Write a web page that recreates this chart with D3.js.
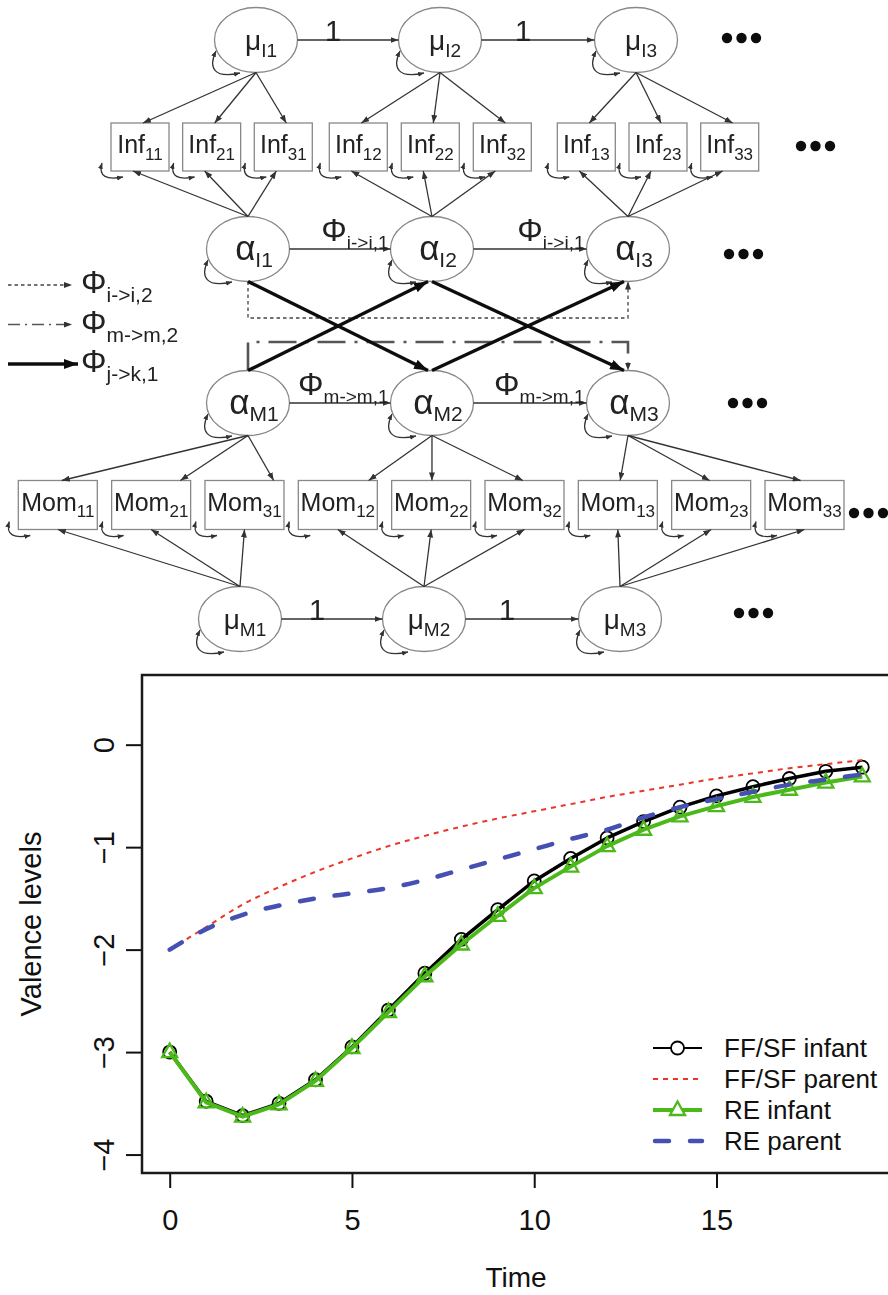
<!DOCTYPE html>
<html>
<head>
<meta charset="utf-8">
<script src="https://cdn.jsdelivr.net/npm/d3@7"></script>
<style>
  html, body { margin: 0; padding: 0; background: #fff; }
  svg { display: block; font-family: "Liberation Sans", Arial, Helvetica, sans-serif; }
</style>
</head>
<body>
<svg id="fig" width="888" height="1295"></svg>
<script>
// ---------------- trajectory values (model-implied valence levels) ----------------
const times = d3.range(0, 20);
const ffsfInfant = [-3.00, -3.48, -3.62, -3.50, -3.27, -2.95, -2.59, -2.23, -1.90, -1.61,
                    -1.33, -1.11, -0.91, -0.75, -0.61, -0.50, -0.41, -0.33, -0.26, -0.22];
const ffsfParent = [-2.00, -1.78, -1.56, -1.39, -1.24, -1.11, -0.99, -0.89, -0.80, -0.72,
                    -0.65, -0.58, -0.51, -0.45, -0.39, -0.33, -0.28, -0.23, -0.19, -0.15];
const reInfant   = [-3.00, -3.49, -3.63, -3.51, -3.28, -2.96, -2.61, -2.26, -1.95, -1.67,
                    -1.40, -1.19, -0.99, -0.83, -0.70, -0.60, -0.51, -0.44, -0.37, -0.31];
const reParent   = [-2.00, -1.80, -1.66, -1.57, -1.50, -1.45, -1.40, -1.32, -1.22, -1.12,
                    -1.02, -0.92, -0.83, -0.71, -0.61, -0.53, -0.46, -0.39, -0.34, -0.29];
const xTickValues = [0, 5, 10, 15];
const yTickValues = [-4, -3, -2, -1, 0];
const seriesNames = ["FF/SF infant", "FF/SF parent", "RE infant", "RE parent"];
const xTitle = "Time";
const yTitle = "Valence levels";

// ---------------- path diagram content ----------------
const waves = [1, 2, 3];
const items = [1, 2, 3];
const latentRows = [
  { key: "muI",    sym: "\u03BC", who: "I", arLabel: "1" },
  { key: "alphaI", sym: "\u03B1", who: "I", arLabel: "i->i,1" },
  { key: "alphaM", sym: "\u03B1", who: "M", arLabel: "m->m,1" },
  { key: "muM",    sym: "\u03BC", who: "M", arLabel: "1" }
];
const indicatorRows = [
  { key: "inf", name: "Inf" },
  { key: "mom", name: "Mom" }
];
const pathKeyItems = [
  { sub: "i->i,2", style: "dotted" },
  { sub: "m->m,2", style: "dashdot" },
  { sub: "j->k,1", style: "thick" }
];
const PHI = "\u03A6";

// ================= drawing =================
const svg = d3.select("#fig");
svg.append("rect").attr("width", 888).attr("height", 1295).attr("fill", "#fff");
const defs = svg.append("defs");

function marker(id, len, wid, color) {
  defs.append("marker")
    .attr("id", id)
    .attr("viewBox", `0 0 ${len} ${wid}`)
    .attr("refX", len).attr("refY", wid / 2)
    .attr("markerWidth", len).attr("markerHeight", wid)
    .attr("markerUnits", "userSpaceOnUse")
    .attr("orient", "auto-start-reverse")
    .append("path")
    .attr("d", `M0,0L${len},${wid / 2}L0,${wid}Z`)
    .attr("fill", color);
}
marker("ah", 8, 6, "#333");
marker("ahBig", 14, 10, "#111");
marker("ahLoop", 6, 5, "#333");

defs.append("filter").attr("id", "soft")
  .append("feGaussianBlur").attr("stdDeviation", 0.4);

const dg = svg.append("g").attr("filter", "url(#soft)");

// ---- layout of the diagram
const colX = d3.scaleLinear().domain([1, 2, 3]).range([248, 432, 628]);
const rowY  = { muI: 40, alphaI: 249, alphaM: 403, muM: 619 };
const rowDx = { muI: 8, alphaI: 0, alphaM: 0, muM: -8 };
const RX = 41.5, RY = 32.5;
const indLayout = {
  inf: { x: d3.scaleLinear().domain([0, 2, 3, 5, 6, 8]).range([140, 283.3, 358.3, 502.3, 586.3, 729.7]),
         cy: 147, w: 58, h: 48, fs: 25, sfs: 17, base: 6, subDy: 7 },
  mom: { x: d3.scaleLinear().domain([0, 8]).range([57.8, 804.5]),
         cy: 505, w: 79, h: 49, fs: 25, sfs: 17, base: 6, subDy: 6 }
};
const momTopAnchor = [[0.55, 0.87, 0.87], [0.89, 0.51, 0.48], [0.53, 0.48, 0.45]];
const moreAt = { muI: [722, 38], inf: [796, 146], alphaI: [724, 254], alphaM: [728, 403], mom: [849, 513], muM: [734, 613] };
const lag2Y = { dotted: 318, dashdot: 342 };

const latent = (row, t) => ({ cx: colX(t) + rowDx[row], cy: rowY[row] });
function box(kind, j, t) {
  const L = indLayout[kind];
  const cx = L.x((t - 1) * 3 + (j - 1));
  return { cx, cy: L.cy, x: cx - L.w / 2, y: L.cy - L.h / 2, w: L.w, h: L.h };
}

function subText(g, x, y, main, sub, o) {
  const t = g.append("text").attr("x", x).attr("y", y)
    .attr("text-anchor", o.anchor || "middle").attr("fill", o.fill || "#222");
  t.append("tspan").attr("font-size", o.fs).text(main);
  t.append("tspan").attr("font-size", o.sfs).attr("dy", o.dy).text(sub);
  return t;
}
function arrow(g, x1, y1, x2, y2, opts = {}) {
  return g.append("line").attr("x1", x1).attr("y1", y1).attr("x2", x2).attr("y2", y2)
    .attr("stroke", opts.stroke || "#333").attr("stroke-width", opts.width || 1.3)
    .attr("stroke-dasharray", opts.dash || null)
    .attr("marker-end", opts.head === false ? null : `url(#${opts.marker || "ah"})`);
}
function loop(g, d) {
  g.append("path").attr("d", d).attr("fill", "none").attr("stroke", "#333").attr("stroke-width", 1.3)
    .attr("marker-start", "url(#ahLoop)").attr("marker-end", "url(#ahLoop)");
}

// ---- indicator boxes
indicatorRows.forEach(r => {
  const L = indLayout[r.key];
  waves.forEach(t => items.forEach(j => {
    const b = box(r.key, j, t);
    dg.append("rect").attr("x", b.x).attr("y", b.y).attr("width", b.w).attr("height", b.h)
      .attr("fill", "#fff").attr("stroke", "#888").attr("stroke-width", 1.3);
    subText(dg, b.cx, b.cy + L.base, r.name, `${j}${t}`, { fs: L.fs, sfs: L.sfs, dy: L.subDy });
    const L0 = b.x, B0 = b.y + b.h;
    loop(dg, `M${L0 - 9},${B0 - 8} C${L0 - 13},${B0 + 6} ${L0 - 4},${B0 + 9} ${L0 + 12},${B0 + 6}`);
  }));
});

// ---- latent ellipses
latentRows.forEach(r => {
  waves.forEach(t => {
    const p = latent(r.key, t);
    dg.append("ellipse").attr("cx", p.cx).attr("cy", p.cy).attr("rx", RX).attr("ry", RY)
      .attr("fill", "#fff").attr("stroke", "#888").attr("stroke-width", 1.3);
    const isMu = r.sym === "\u03BC";
    subText(dg, p.cx + (isMu ? 5 : 6), p.cy + (isMu ? 10 : 11), r.sym, `${r.who}${t}`,
      { fs: isMu ? 28 : 35, sfs: isMu ? 19 : 21, dy: 7 });
    loop(dg, `M${p.cx - 40},${p.cy + 11} C${p.cx - 48},${p.cy + 28} ${p.cx - 42},${p.cy + 39} ${p.cx - 16},${p.cy + 33}`);
  });
});

// ---- loadings
waves.forEach(t => items.forEach(j => {
  const mi = latent("muI", t), ai = latent("alphaI", t), am = latent("alphaM", t), mm = latent("muM", t);
  const bi = box("inf", j, t), bm = box("mom", j, t);
  arrow(dg, mi.cx, mi.cy + RY, bi.cx + 3, bi.y);
  arrow(dg, ai.cx, ai.cy - RY, bi.cx - 7, bi.y + bi.h);
  arrow(dg, am.cx, am.cy + RY, bm.x + bm.w * momTopAnchor[t - 1][j - 1], bm.y);
  arrow(dg, mm.cx, mm.cy - RY, bm.cx, bm.y + bm.h);
}));

// ---- autoregressive paths between waves
latentRows.forEach(r => {
  [1, 2].forEach(t => {
    const a = latent(r.key, t), b = latent(r.key, t + 1);
    const x1 = a.cx + RX, x2 = b.cx - RX, yy = a.cy;
    arrow(dg, x1, yy, x2, yy);
    if (r.arLabel === "1") {
      dg.append("text").attr("x", (x1 + x2) / 2 - 15).attr("y", yy + 1)
        .attr("text-anchor", "middle").attr("font-size", 29).attr("fill", "#222").text("1");
    } else {
      subText(dg, x2 - 2, yy - 8, PHI, r.arLabel, { anchor: "end", fs: 32, sfs: 19, dy: 8 });
    }
  });
});

// ---- lag-2 paths (elbows)
{
  const a1 = latent("alphaI", 1), a3 = latent("alphaI", 3);
  dg.append("path")
    .attr("d", `M${a1.cx},${a1.cy + RY} V${lag2Y.dotted} H${a3.cx} V${a3.cy + RY}`)
    .attr("fill", "none").attr("stroke", "#444").attr("stroke-width", 1.3)
    .attr("stroke-dasharray", "3.5,3").attr("marker-end", "url(#ah)");
  const m1 = latent("alphaM", 1), m3 = latent("alphaM", 3);
  dg.append("path")
    .attr("d", `M${m1.cx},${m1.cy - RY} V${lag2Y.dashdot} H${m3.cx} V${m3.cy - RY}`)
    .attr("fill", "none").attr("stroke", "#555").attr("stroke-width", 2.6)
    .attr("stroke-dasharray", "28,9,3,9").attr("marker-end", "url(#ah)");
}

// ---- cross-lagged paths
[1, 2].forEach(t => {
  const ai = latent("alphaI", t), am = latent("alphaM", t);
  const ai2 = latent("alphaI", t + 1), am2 = latent("alphaM", t + 1);
  arrow(dg, ai.cx, ai.cy + RY, am2.cx - 4, am2.cy - RY, { stroke: "#111", width: 3.4, marker: "ahBig" });
  arrow(dg, am.cx, am.cy - RY, ai2.cx - 4, ai2.cy + RY, { stroke: "#111", width: 3.4, marker: "ahBig" });
});

// ---- continuation dots
Object.values(moreAt).forEach(([x0, y0]) => {
  [0, 1, 2].forEach(k => dg.append("circle").attr("cx", x0 + 5 + k * 14.5).attr("cy", y0).attr("r", 5.2).attr("fill", "#111"));
});

// ---- key for the lagged paths
const keyY = d3.scalePoint().domain(pathKeyItems.map(d => d.sub)).range([285, 364]);
pathKeyItems.forEach(d => {
  const yy = keyY(d.sub);
  if (d.style === "dotted") arrow(dg, 8, yy, 72, yy, { dash: "3.5,3", stroke: "#444" });
  if (d.style === "dashdot") arrow(dg, 8, yy, 72, yy, { dash: "12,5,2,5", stroke: "#555", width: 1.6 });
  if (d.style === "thick") arrow(dg, 8, yy, 78, yy, { stroke: "#111", width: 3.4, marker: "ahBig" });
  subText(dg, 81, yy + 8, PHI, d.sub, { anchor: "start", fs: 32, sfs: 21, dy: 9 });
});

// ================= line chart =================
const cg = svg.append("g");
const x = d3.scaleLinear().domain([-0.76, 19.76]).range([142, 890]);
const y = d3.scaleLinear().domain([-4.18, 0.68]).range([1173, 675]);
const fmt = d3.format("d");

const xAxis = cg.append("g").attr("transform", "translate(0,1173)")
  .call(d3.axisBottom(x).tickValues(xTickValues).tickSize(15).tickFormat(fmt));
xAxis.select(".domain").remove();
xAxis.attr("font-family", null).attr("font-size", 29);
xAxis.selectAll(".tick line").attr("stroke", "#111").attr("stroke-width", 2);
xAxis.selectAll(".tick text").attr("y", 57).attr("dy", null).attr("fill", "#111");

const yAxis = cg.append("g").attr("transform", "translate(142,0)")
  .call(d3.axisLeft(y).tickValues(yTickValues).tickSize(16).tickFormat(fmt));
yAxis.select(".domain").remove();
yAxis.attr("font-family", null).attr("font-size", 29);
yAxis.selectAll(".tick line").attr("stroke", "#111").attr("stroke-width", 2);
yAxis.selectAll(".tick text").attr("transform", "rotate(-90)").attr("x", 0).attr("y", -28)
  .attr("dy", null).attr("text-anchor", "middle").attr("fill", "#111");

cg.append("text").attr("x", (x.range()[0] + x.range()[1]) / 2).attr("y", 1287)
  .attr("text-anchor", "middle").attr("font-size", 28).attr("fill", "#111").text(xTitle);
cg.append("text").attr("transform", `translate(0,${(y.range()[0] + y.range()[1]) / 2}) rotate(-90)`)
  .attr("x", 0).attr("y", 41).attr("text-anchor", "middle").attr("font-size", 29).attr("fill", "#111").text(yTitle);

const colors = { black: "#000", red: "#e8372a", green: "#4cb91a", blue: "#4650b2" };
const lineGen = d3.line().x((d, i) => x(times[i])).y(d => y(d));
const tri = "M0,-8.5L7.5,5L-7.5,5Z";

const plot = cg.append("g");
plot.append("path").datum(ffsfInfant).attr("d", lineGen).attr("fill", "none")
  .attr("stroke", colors.black).attr("stroke-width", 3.5).attr("stroke-linejoin", "round");
plot.selectAll("circle.ff").data(ffsfInfant).join("circle").attr("class", "ff")
  .attr("cx", (d, i) => x(times[i])).attr("cy", d => y(d)).attr("r", 6.5)
  .attr("fill", "none").attr("stroke", colors.black).attr("stroke-width", 1.8);
plot.append("path").datum(ffsfParent).attr("d", lineGen.curve(d3.curveMonotoneX)).attr("fill", "none")
  .attr("stroke", colors.red).attr("stroke-width", 2).attr("stroke-dasharray", "5,5");
lineGen.curve(d3.curveLinear);
plot.append("path").datum(reInfant).attr("d", lineGen).attr("fill", "none")
  .attr("stroke", colors.green).attr("stroke-width", 4).attr("stroke-linejoin", "round");
plot.selectAll("path.tri").data(reInfant).join("path").attr("class", "tri")
  .attr("d", tri).attr("transform", (d, i) => `translate(${x(times[i])},${y(d)})`)
  .attr("fill", "none").attr("stroke", colors.green).attr("stroke-width", 2.3);
plot.append("path").datum(reParent).attr("d", lineGen.curve(d3.curveMonotoneX)).attr("fill", "none")
  .attr("stroke", colors.blue).attr("stroke-width", 4.5).attr("stroke-linecap", "round")
  .attr("stroke-dasharray", "14,21");

// plot frame
cg.append("rect").attr("x", 142).attr("y", 675).attr("width", 748).attr("height", 498)
  .attr("fill", "none").attr("stroke", "#1a1a1a").attr("stroke-width", 2.5);

// legend
const legY = d3.scalePoint().domain(seriesNames).range([1048, 1141]);
const lg = cg.append("g");
const lx1 = 653, lx2 = 702, lmid = (lx1 + lx2) / 2;
const legendStyles = [
  { c: colors.black, w: 2, dash: null, mark: "circle" },
  { c: colors.red, w: 2, dash: "5,5", mark: null },
  { c: colors.green, w: 4, dash: null, mark: "tri" },
  { c: colors.blue, w: 4.5, dash: "14,21", mark: null, cap: "round" }
];
seriesNames.forEach((name, i) => {
  const yy = legY(name), s = legendStyles[i];
  lg.append("line").attr("x1", s.cap ? lx1 + 2 : lx1).attr("x2", lx2).attr("y1", yy).attr("y2", yy)
    .attr("stroke", s.c).attr("stroke-width", s.w).attr("stroke-dasharray", s.dash)
    .attr("stroke-linecap", s.cap || "butt");
  if (s.mark === "circle") lg.append("circle").attr("cx", lmid).attr("cy", yy).attr("r", 6.5)
    .attr("fill", "#fff").attr("stroke", s.c).attr("stroke-width", 1.8);
  if (s.mark === "tri") lg.append("path").attr("d", tri).attr("transform", `translate(${lmid},${yy})`)
    .attr("fill", "#fff").attr("stroke", s.c).attr("stroke-width", 2.3);
  lg.append("text").attr("x", 724).attr("y", yy + 9).attr("font-size", 26).attr("fill", "#111").text(name);
});
</script>
</body>
</html>
